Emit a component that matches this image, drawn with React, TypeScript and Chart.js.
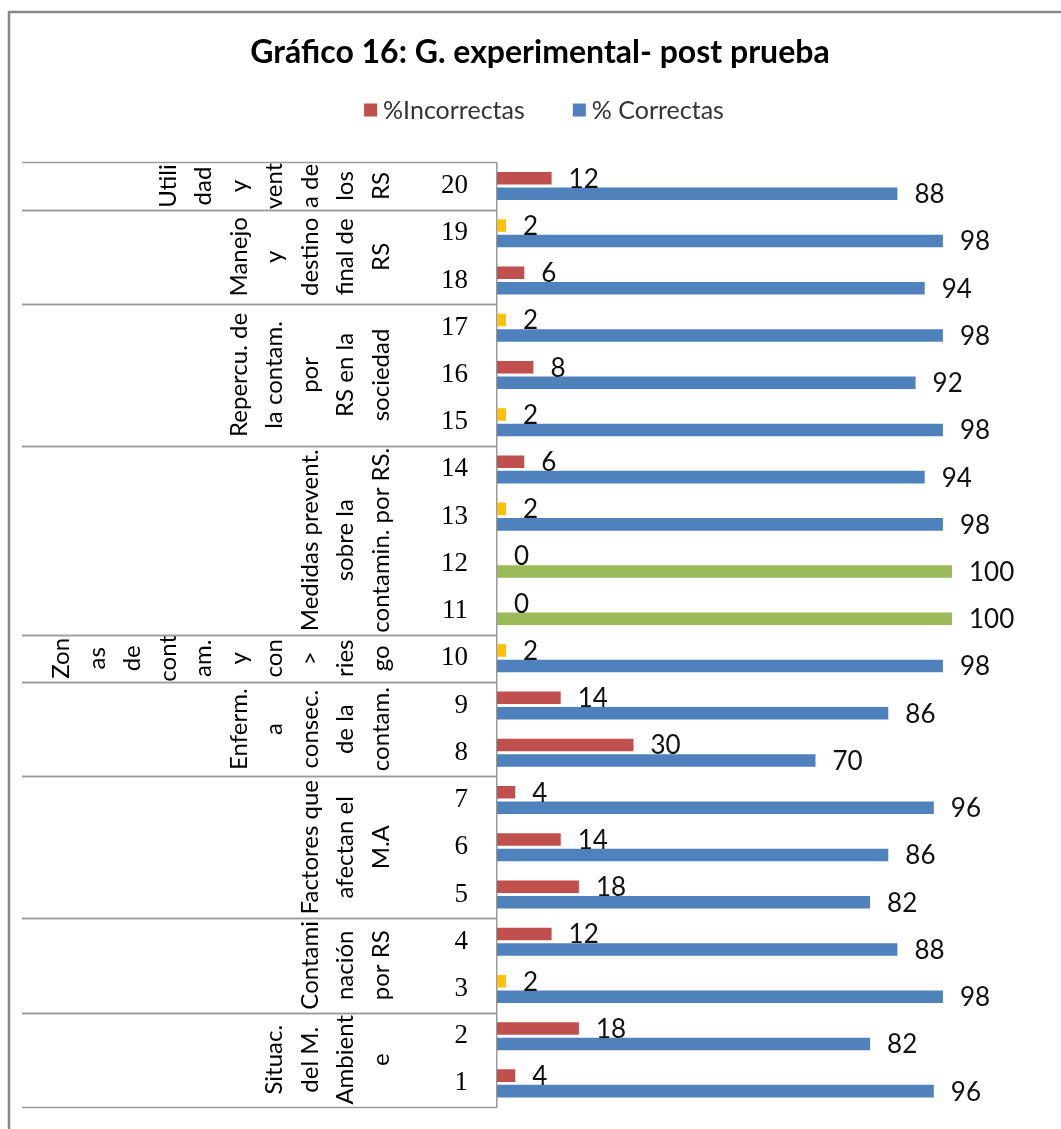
import React, { useEffect, useRef } from 'react';
import { Chart, registerables } from 'chart.js';

Chart.register(...registerables);

// ---- data ----
const questions = ['1', '2', '3', '4', '5', '6', '7', '8', '9', '10', '11', '12', '13', '14', '15', '16', '17', '18', '19', '20'];
const incorrectas = [4, 18, 2, 12, 18, 14, 4, 30, 14, 2, 0, 0, 2, 6, 2, 8, 2, 6, 2, 12];
const correctas = [96, 82, 98, 88, 82, 86, 96, 70, 86, 98, 100, 100, 98, 94, 98, 92, 98, 94, 98, 88];
const seriesNames = ['%Incorrectas', '% Correctas'];
const titleText = 'Gráfico 16: G. experimental- post prueba';

const groupLines = [
  ['Situac.', 'del M.', 'Ambient', 'e'],
  ['Contami', 'nación', 'por RS'],
  ['Factores que', 'afectan el', 'M.A'],
  ['Enferm.', 'a', 'consec.', 'de la', 'contam.'],
  ['Zon', 'as', 'de', 'cont', 'am.', 'y', 'con', '>', 'ries', 'go'],
  ['Medidas prevent.', 'sobre la', 'contamin. por RS.'],
  ['Repercu. de', 'la contam.', 'por', 'RS en la', 'sociedad'],
  ['Manejo', 'y', 'destino', 'final de', 'RS'],
  ['Utili', 'dad', 'y', 'vent', 'a de', 'los', 'RS'],
];
const groupFirst = [1, 3, 5, 8, 10, 11, 15, 18, 20];
const groupLast = [2, 4, 7, 9, 10, 14, 17, 19, 20];

// ---- styles ----
const RED = '#C0504D';
const YELLOW = '#FFC000';
const BLUE = '#4F81BD';
const GREEN = '#9BBB59';
const LINE = '#9a9a9a';
const SANS = 'Lato, "Open Sans", sans-serif';

const framePlugin = {
  id: 'frame',
  beforeDraw(chart: any) {
    const ctx = chart.ctx;
    ctx.save();
    ctx.fillStyle = '#ffffff';
    ctx.fillRect(0, 0, chart.width, chart.height);
    ctx.strokeStyle = '#888888';
    ctx.lineWidth = 2.5;
    ctx.strokeRect(9, 12, chart.width + 50, chart.height + 50);
    ctx.restore();
  },
};

const legendPlugin = {
  id: 'customLegend',
  afterDraw(chart: any) {
    const ctx = chart.ctx;
    ctx.save();
    ctx.font = `25px ${SANS}`;
    const box = 13;
    const gapText = 6;
    const gapItem = 48;
    const w0 = ctx.measureText(seriesNames[0]).width;
    const w1 = ctx.measureText(seriesNames[1]).width;
    const total = box + gapText + w0 + gapItem + box + gapText + w1;
    const cy = 110;
    let x = 544 - total / 2;
    const colors = [RED, BLUE];
    const widths = [w0, w1];
    ctx.textBaseline = 'middle';
    ctx.textAlign = 'left';
    for (let i = 0; i < 2; i++) {
      ctx.fillStyle = colors[i];
      ctx.fillRect(x, cy - box / 2, box, box);
      x += box + gapText;
      ctx.fillStyle = '#333333';
      ctx.fillText(seriesNames[i], x, cy + 1);
      x += widths[i] + gapItem;
    }
    ctx.restore();
  },
};

const tablePlugin = {
  id: 'groupTable',
  afterDraw(chart: any) {
    const ctx = chart.ctx;
    const y = chart.scales.y;
    const area = chart.chartArea;
    const half = Math.abs(y.getPixelForValue(1) - y.getPixelForValue(0)) / 2;
    const leftX = 22;
    const rightX = area.left;
    const lastLineX = area.left - 116;
    const spacing = 35.5;
    ctx.save();
    ctx.strokeStyle = LINE;
    ctx.lineWidth = 1.5;
    for (let g = 0; g < groupLines.length; g++) {
      const pa = y.getPixelForValue(groupFirst[g] - 1);
      const pb = y.getPixelForValue(groupLast[g] - 1);
      const top = Math.min(pa, pb) - half;
      const bottom = Math.max(pa, pb) + half;
      ctx.beginPath();
      ctx.moveTo(leftX, Math.round(top) + 0.5);
      ctx.lineTo(rightX, Math.round(top) + 0.5);
      ctx.moveTo(leftX, Math.round(bottom) + 0.5);
      ctx.lineTo(rightX, Math.round(bottom) + 0.5);
      ctx.stroke();

      const cy = (top + bottom) / 2;
      const lines = groupLines[g];
      const n = lines.length;
      ctx.save();
      ctx.beginPath();
      ctx.rect(leftX, top + 1, rightX - leftX - 60, bottom - top - 2);
      ctx.clip();
      ctx.fillStyle = '#000000';
      ctx.font = `24px ${SANS}`;
      ctx.textAlign = 'center';
      ctx.textBaseline = 'middle';
      for (let i = 0; i < n; i++) {
        const x = lastLineX - (n - 1 - i) * spacing;
        ctx.save();
        ctx.translate(x, cy);
        ctx.rotate(-Math.PI / 2);
        ctx.fillText(lines[i], 0, 0);
        ctx.restore();
      }
      ctx.restore();
    }
    ctx.restore();
  },
};

const valueLabelPlugin = {
  id: 'valueLabels',
  afterDatasetsDraw(chart: any) {
    const ctx = chart.ctx;
    ctx.save();
    ctx.font = `26px ${SANS}`;
    ctx.fillStyle = '#111111';
    ctx.textAlign = 'left';
    ctx.textBaseline = 'middle';
    chart.data.datasets.forEach((ds: any, i: number) => {
      const meta = chart.getDatasetMeta(i);
      meta.data.forEach((el: any, j: number) => {
        ctx.fillText(String(ds.data[j]), el.x + 17, el.y + 1);
      });
    });
    ctx.restore();
  },
};

export default function App() {
  const ref = useRef<HTMLCanvasElement | null>(null);

  useEffect(() => {
    if (!ref.current) return;
    const chart = new Chart(ref.current, {
      type: 'bar',
      data: {
        labels: questions,
        datasets: [
          {
            label: seriesNames[0],
            data: incorrectas,
            backgroundColor: (c: any) => (c.raw === 2 ? YELLOW : RED),
            borderWidth: 0,
            categoryPercentage: 0.656,
            barPercentage: 0.81,
          },
          {
            label: seriesNames[1],
            data: correctas,
            backgroundColor: (c: any) => (c.raw === 100 ? GREEN : BLUE),
            borderWidth: 0,
            categoryPercentage: 0.656,
            barPercentage: 0.81,
          },
        ],
      },
      options: {
        indexAxis: 'y',
        responsive: false,
        animation: false,
        devicePixelRatio: 1,
        layout: { padding: { left: 37, right: 18, top: 0, bottom: 22 } },
        plugins: {
          legend: { display: false },
          tooltip: { enabled: false },
          title: {
            display: true,
            text: titleText,
            color: '#000000',
            font: { family: SANS, size: 32, weight: 'bold' },
            padding: { top: 33, bottom: 91 },
          },
        },
        scales: {
          x: { display: false, min: 0, max: 120 },
          y: {
            type: 'category',
            reverse: true,
            afterFit: (s: any) => {
              s.width = 460;
            },
            grid: {
              display: true,
              drawOnChartArea: false,
              drawTicks: true,
              tickLength: 29,
              color: 'rgba(0,0,0,0)',
            },
            border: { display: true, color: LINE, width: 1.5 },
            ticks: {
              color: '#000000',
              padding: 0,
              font: { family: '"Liberation Serif", serif', size: 27 },
            },
          },
        },
      },
      plugins: [framePlugin, tablePlugin, valueLabelPlugin, legendPlugin],
    } as any);
    return () => chart.destroy();
  }, []);

  return (
    <div style={{ position: 'absolute', left: 0, top: 0, width: 1061, height: 1129 }}>
      <canvas ref={ref} width={1061} height={1129} style={{ display: 'block' }} />
    </div>
  );
}
